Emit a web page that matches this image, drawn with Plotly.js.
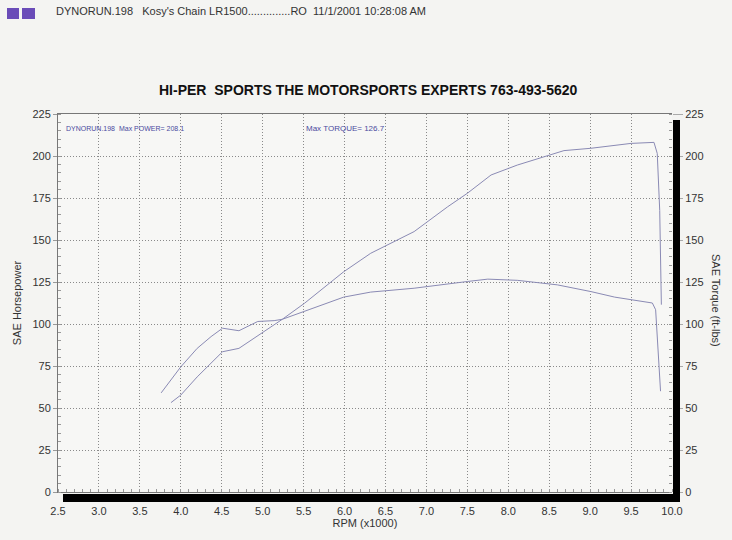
<!DOCTYPE html>
<html>
<head>
<meta charset="utf-8">
<script src="https://cdn.plot.ly/plotly-3.0.1.min.js"></script>
<style>
html,body{margin:0;padding:0;background:#f4f4f2;}
#chart{width:732px;height:540px;}
</style>
</head>
<body>
<div id="chart"></div>
<script>
// ---- data ----
var rpmHP = [3.88, 4.0, 4.2, 4.37, 4.51, 4.71, 5.02, 5.24, 5.51, 5.83, 5.99, 6.2, 6.32, 6.85, 7.26, 7.5, 7.79, 8.11, 8.52, 8.68, 9.01, 9.34, 9.5, 9.78, 9.82, 9.85, 9.87];
var hp    = [53.2, 57.7, 68.5, 76.5, 83.5, 85.5, 95.4, 102.8, 112.3, 125.2, 131.1, 138.1, 142.1, 155, 169.8, 177.8, 188.7, 194.6, 200.6, 203.2, 204.6, 206.5, 207.5, 208.1, 201.5, 167.5, 111.5];

var rpmTQ = [3.76, 4.0, 4.2, 4.37, 4.51, 4.71, 4.94, 5.14, 5.24, 5.5, 5.99, 6.32, 6.85, 7.5, 7.75, 8.11, 8.6, 9.01, 9.3, 9.76, 9.8, 9.86];
var tq    = [59, 74.5, 85.5, 92.5, 97.5, 96, 101.5, 102, 102.8, 107.5, 116, 119, 121.3, 125.3, 126.7, 126, 123.3, 119.3, 116, 112.5, 108.5, 60];

var yTicks = [0, 25, 50, 75, 100, 125, 150, 175, 200, 225];
var xTicks = [2.5, 3.0, 3.5, 4.0, 4.5, 5.0, 5.5, 6.0, 6.5, 7.0, 7.5, 8.0, 8.5, 9.0, 9.5, 10.0];
var xTickText = xTicks.map(function(v){return v.toFixed(1);});

var headerText = "DYNORUN.198   Kosy's Chain LR1500..............RO  11/1/2001 10:28:08 AM";
var titleText = "HI-PER  SPORTS THE MOTORSPORTS EXPERTS 763-493-5620";
var maxPowerText = "DYNORUN.198  Max POWER= 208.1";
var maxTorqueText = "Max TORQUE= 126.7";

// ---- layout helpers (pixel -> paper) ----
var L = 58, R = 60, T = 114, B = 48, W = 732, H = 540;
var pw = W - L - R, ph = H - T - B;
function px(x){ return (x - L) / pw; }
function py(y){ return (H - B - y) / ph; }

var lineColor = '#8a8ab4';
var gridColor = '#8a8a8a';
var font = 'Arial, "Liberation Sans", sans-serif';

var traces = [
  {x: rpmHP, y: hp, type: 'scatter', mode: 'lines', name: 'SAE Horsepower',
   line: {color: lineColor, width: 1}, yaxis: 'y'},
  {x: rpmTQ, y: tq, type: 'scatter', mode: 'lines', name: 'SAE Torque',
   line: {color: lineColor, width: 1}, yaxis: 'y2'}
];

var layout = {
  width: W, height: H,
  margin: {l: L, r: R, t: T, b: B},
  paper_bgcolor: '#f4f4f2',
  plot_bgcolor: '#f7f7f5',
  showlegend: false,
  font: {family: font, size: 11, color: '#333'},
  xaxis: {
    range: [2.5, 10.0], tickvals: xTicks, ticktext: xTickText,
    showgrid: true, gridcolor: gridColor, griddash: '1px,2px', gridwidth: 1,
    showline: true, linecolor: '#777', linewidth: 1, mirror: true,
    ticks: '', zeroline: false, ticklabelstandoff: 9,
    minor: {ticks: 'inside', dtick: 0.1, ticklen: 3, tickcolor: '#999', showgrid: false},
    tickfont: {size: 11, color: '#333'},
    title: {text: 'RPM (x1000)', font: {size: 11, color: '#333'}, standoff: 0}
  },
  yaxis: {
    range: [0, 225], tickvals: yTicks,
    showgrid: true, gridcolor: gridColor, griddash: '1px,2px', gridwidth: 1,
    showline: true, linecolor: '#777', linewidth: 1,
    ticks: 'outside', ticklen: 4, tickcolor: '#999', zeroline: false,
    minor: {ticks: 'inside', dtick: 5, ticklen: 3, tickcolor: '#999', showgrid: false},
    tickfont: {size: 11, color: '#333'},
    title: {text: 'SAE Horsepower', font: {size: 11, color: '#333'}, standoff: 8}
  },
  yaxis2: {
    range: [0, 225], tickvals: yTicks, overlaying: 'y', side: 'right',
    showgrid: false, showline: false, zeroline: false,
    ticks: 'outside', ticklen: 10, tickcolor: '#aaa',
    minor: {ticks: 'inside', dtick: 5, ticklen: 3, tickcolor: '#999'},
    tickfont: {size: 11, color: '#333'}
  },
  shapes: [
    // drop shadow of the plot frame
    {type: 'rect', xref: 'paper', yref: 'paper', x0: px(63), x1: px(680), y0: py(502), y1: py(494),
     fillcolor: '#000', line: {width: 0}},
    {type: 'rect', xref: 'paper', yref: 'paper', x0: px(673), x1: px(680), y0: py(502), y1: py(120),
     fillcolor: '#000', line: {width: 0}},
    // header squares
    {type: 'rect', xref: 'paper', yref: 'paper', x0: px(7), x1: px(19), y0: py(19), y1: py(8),
     fillcolor: '#6a4cb8', line: {width: 0}},
    {type: 'rect', xref: 'paper', yref: 'paper', x0: px(22), x1: px(35), y0: py(19), y1: py(8),
     fillcolor: '#6a4cb8', line: {width: 0}}
  ],
  annotations: [
    {text: headerText, xref: 'paper', yref: 'paper', x: px(54), y: py(11), xanchor: 'left', yanchor: 'middle',
     showarrow: false, font: {size: 11, color: '#333'}},
    {text: '<b>' + titleText + '</b>', xref: 'paper', yref: 'paper', x: px(368), y: py(90), xanchor: 'center', yanchor: 'middle',
     showarrow: false, font: {size: 14, color: '#111'}},
    {text: maxPowerText, xref: 'paper', yref: 'paper', x: px(64), y: py(128), xanchor: 'left', yanchor: 'middle',
     showarrow: false, font: {size: 7, color: '#4a4aa0'}},
    {text: maxTorqueText, xref: 'paper', yref: 'paper', x: px(304), y: py(128), xanchor: 'left', yanchor: 'middle',
     showarrow: false, font: {size: 8, color: '#4a4aa0'}},
    {text: 'SAE Torque (ft-lbs)', xref: 'paper', yref: 'paper', x: px(716), y: py(300), xanchor: 'center', yanchor: 'middle',
     textangle: 90, showarrow: false, font: {size: 11, color: '#333'}}
  ]
};

Plotly.newPlot('chart', traces, layout, {displayModeBar: false, staticPlot: true});
</script>
</body>
</html>
